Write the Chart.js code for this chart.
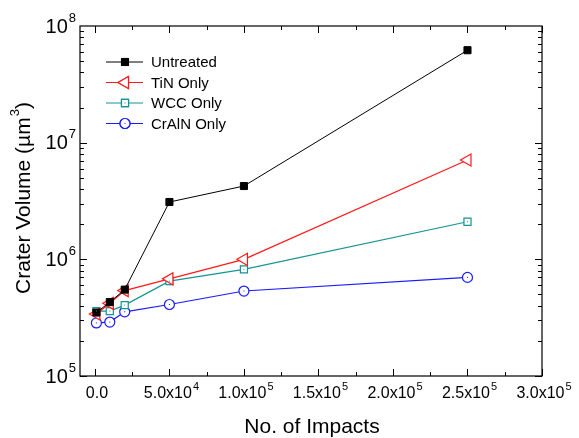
<!DOCTYPE html>
<html lang="en">
<head>
<meta charset="UTF-8">
<title>Crater Volume</title>
<script src="https://cdn.jsdelivr.net/npm/chart.js"></script>
<style>
  html, body { margin: 0; padding: 0; background: #fff; }
  #wrap { width: 579px; height: 438px; }
</style>
</head>
<body>
<div id="wrap"><canvas id="myChart" width="579" height="438"></canvas></div>
<script>
// number of impacts (x) for every series
const impacts = [1000, 10000, 20000, 50000, 100000, 250000];

// crater volume, um^3
const untreated = [3.5e5, 4.3e5, 5.5e5, 3.1e6, 4.25e6, 6.2e7];
const tinOnly   = [3.4e5, 4.2e5, 5.4e5, 6.8e5, 1.0e6, 7.1e6];
const wccOnly   = [3.6e5, 3.6e5, 4.05e5, 6.5e5, 8.2e5, 2.1e6];
const crAlNOnly = [2.85e5, 2.9e5, 3.55e5, 4.1e5, 5.35e5, 7.0e5];

const seriesNames = ['Untreated', 'TiN Only', 'WCC Only', 'CrAlN Only'];

const xTicks = [0, 50000, 100000, 150000, 200000, 250000, 300000];
const xTickText = [['0.0', ''], ['5.0x10', '4'], ['1.0x10', '5'], ['1.5x10', '5'],
                   ['2.0x10', '5'], ['2.5x10', '5'], ['3.0x10', '5']];
const yDecades = [1e5, 1e6, 1e7, 1e8];
const yExp = ['5', '6', '7', '8'];

const pts = arr => arr.map((v, i) => ({ x: impacts[i], y: v }));

const FONT = '"Liberation Sans", Arial, Helvetica, sans-serif';
const L = 80, T = 26, R = 542, B = 376;

const data = {
  datasets: [
    { label: seriesNames[0], data: pts(untreated), borderColor: '#000', backgroundColor: '#000',
      pointStyle: 'rect', pointRadius: 5, pointBorderWidth: 1, borderWidth: 1 },
    { label: seriesNames[1], data: pts(tinOnly), borderColor: '#ff1a1a', backgroundColor: '#fff',
      pointStyle: 'triangle', pointRotation: 270, pointRadius: 7, pointBorderWidth: 1.2, borderWidth: 1.2 },
    { label: seriesNames[2], data: pts(wccOnly), borderColor: '#159494', backgroundColor: '#fff',
      pointStyle: 'rect', pointRadius: 5, pointBorderWidth: 1.2, borderWidth: 1.2, dot: true },
    { label: seriesNames[3], data: pts(crAlNOnly), borderColor: '#1a1aff', backgroundColor: '#fff',
      pointStyle: 'circle', pointRadius: 5, pointBorderWidth: 1.2, borderWidth: 1.2, dot: true }
  ]
};

function supText(ctx, base, sup, x, y, size, supSize, align) {
  ctx.font = size + 'px ' + FONT;
  const w1 = ctx.measureText(base).width;
  ctx.font = supSize + 'px ' + FONT;
  const w2 = sup ? ctx.measureText(sup).width + 1 : 0;
  let x0 = x;
  if (align === 'center') x0 = x - (w1 + w2) / 2;
  if (align === 'right') x0 = x - w1 - w2;
  ctx.textAlign = 'left';
  ctx.textBaseline = 'middle';
  ctx.font = size + 'px ' + FONT;
  ctx.fillText(base, x0, y);
  if (sup) {
    ctx.font = supSize + 'px ' + FONT;
    ctx.fillText(sup, x0 + w1 + 1, y - size * 0.45);
  }
}

const decor = {
  id: 'decor',
  afterDatasetsDraw(chart) {
    const ctx = chart.ctx;
    const xs = chart.scales.x, ys = chart.scales.y;
    ctx.save();
    // centre dots
    chart.data.datasets.forEach((ds, i) => {
      if (!ds.dot) return;
      ctx.fillStyle = ds.borderColor;
      chart.getDatasetMeta(i).data.forEach(p => ctx.fillRect(p.x - 0.5, p.y - 0.5, 1, 1));
    });
    // frame
    const a = chart.chartArea;
    ctx.strokeStyle = '#000';
    ctx.lineWidth = 1.2;
    ctx.strokeRect(a.left, a.top, a.right - a.left, a.bottom - a.top);
    ctx.lineWidth = 1;
    ctx.beginPath();
    // x ticks, major + minor, bottom and top
    for (let v = 0; v <= 300000; v += 25000) {
      const px = Math.round(xs.getPixelForValue(v)) + 0.5;
      const len = v % 50000 === 0 ? 7 : 4;
      ctx.moveTo(px, a.bottom); ctx.lineTo(px, a.bottom - len);
      ctx.moveTo(px, a.top); ctx.lineTo(px, a.top + len);
    }
    // y ticks, log
    for (let d = 1e5; d < 1e8; d *= 10) {
      for (let m = 1; m < 10; m++) {
        const py = Math.round(ys.getPixelForValue(d * m)) + 0.5;
        const len = m === 1 ? 7 : 4;
        ctx.moveTo(a.left, py); ctx.lineTo(a.left + len, py);
        ctx.moveTo(a.right, py); ctx.lineTo(a.right - len, py);
      }
    }
    ctx.stroke();
    // tick labels
    ctx.fillStyle = '#000';
    xTicks.forEach((v, i) => {
      supText(ctx, xTickText[i][0], xTickText[i][1], xs.getPixelForValue(v) + 2, 394, 16, 11, 'center');
    });
    yDecades.forEach((v, i) => {
      supText(ctx, '10', yExp[i], 76, ys.getPixelForValue(v) + 1, 20, 13, 'right');
    });
    // axis titles
    ctx.font = '21px ' + FONT;
    ctx.textAlign = 'center';
    ctx.textBaseline = 'middle';
    ctx.fillText('No. of Impacts', 312, 427);
    ctx.save();
    ctx.translate(24, 198);
    ctx.rotate(-Math.PI / 2);
    ctx.font = '21px ' + FONT;
    const t1 = 'Crater Volume (\u00b5m', t3 = ')';
    const w1 = ctx.measureText(t1).width;
    ctx.font = '13px ' + FONT;
    const w2 = ctx.measureText('3').width + 1;
    ctx.font = '21px ' + FONT;
    const w3 = ctx.measureText(t3).width;
    let x0 = -(w1 + w2 + w3) / 2;
    ctx.textAlign = 'left';
    ctx.fillText(t1, x0, 0);
    ctx.font = '13px ' + FONT;
    ctx.fillText('3', x0 + w1 + 1, -9);
    ctx.font = '21px ' + FONT;
    ctx.fillText(t3, x0 + w1 + w2, 0);
    ctx.restore();
    // legend
    chart.data.datasets.forEach((ds, i) => {
      const y = 62 + i * 20.5;
      ctx.strokeStyle = ds.borderColor;
      ctx.lineWidth = ds.borderWidth;
      ctx.beginPath();
      ctx.moveTo(106, y); ctx.lineTo(143, y);
      ctx.stroke();
      Chart.helpers.drawPoint(ctx, {
        pointStyle: ds.pointStyle, rotation: ds.pointRotation || 0,
        radius: ds.pointRadius, borderWidth: ds.pointBorderWidth
      }, 125, y);
      ctx.fillStyle = ds.backgroundColor;
      ctx.fill();
      ctx.stroke();
      if (ds.dot) { ctx.fillStyle = ds.borderColor; ctx.fillRect(124.5, y - 0.5, 1, 1); }
      ctx.fillStyle = '#000';
      ctx.font = '15px ' + FONT;
      ctx.textAlign = 'left';
      ctx.textBaseline = 'middle';
      ctx.fillText(ds.label, 151, y + 1);
    });
    ctx.restore();
  }
};

const config = {
  type: 'line',
  data: data,
  options: {
    responsive: false,
    animation: false,
    layout: { padding: { left: 0, top: T, right: 579 - R, bottom: 0 } },
    plugins: { legend: { display: false }, tooltip: { enabled: false } },
    elements: { line: { tension: 0 } },
    scales: {
      x: {
        type: 'linear', min: -10000, max: 300000,
        grid: { display: false }, border: { display: false },
        ticks: { display: false },
        afterFit: s => { s.height = 438 - B; }
      },
      y: {
        type: 'logarithmic', min: 1e5, max: 1e8,
        grid: { display: false }, border: { display: false },
        ticks: { display: false },
        afterFit: s => { s.width = L; }
      }
    }
  },
  plugins: [decor]
};

const myChart = new Chart(document.getElementById('myChart'), config);
</script>
</body>
</html>
